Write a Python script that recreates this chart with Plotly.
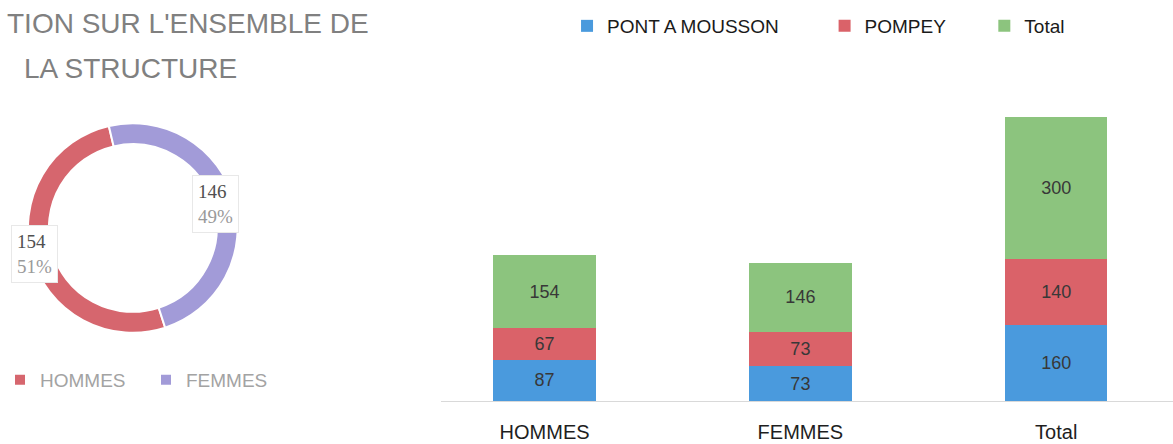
import math
import plotly.graph_objects as go

# ---- data ----
categories = ["HOMMES", "FEMMES", "Total"]
pont_a_mousson = [87, 73, 160]
pompey = [67, 73, 140]
total = [154, 146, 300]
series_names = ["PONT A MOUSSON", "POMPEY", "Total"]

donut_labels = ["HOMMES", "FEMMES"]
donut_values = [154, 146]

title_line1 = "TION SUR L'ENSEMBLE DE"
title_line2 = "LA STRUCTURE"

# ---- styles ----
W, H = 1173, 444
bar_colors = ["#4a9add", "#da6269", "#8cc47e"]
donut_colors = ["#d6666e", "#a29bd8"]
sans = "Liberation Sans"

fig = go.Figure()

series = [pont_a_mousson, pompey, total]
legends = ["legend", "legend3", "legend4"]
for name, vals, col, lg in zip(series_names, series, bar_colors, legends):
    fig.add_trace(go.Bar(
        x=categories, y=vals, name=name, marker_color=col, marker_line_width=0,
        width=0.4, text=vals, texttemplate="%{text}", textposition="inside",
        insidetextanchor="middle", textangle=0,
        textfont=dict(family=sans, size=18, color="#383838"),
        legend=lg, xaxis="x", yaxis="y",
    ))

# donut
cx, cy, R = 131, 228, 105
rotation = 162
fig.add_trace(go.Pie(
    labels=donut_labels, values=donut_values, hole=0.8, sort=False,
    direction="clockwise", rotation=rotation,
    marker=dict(colors=donut_colors, line=dict(color="white", width=2)),
    textinfo="none", hoverinfo="label+value+percent",
    domain=dict(x=[(cx - R) / W, (cx + R) / W], y=[1 - (cy + R) / H, 1 - (cy - R) / H]),
    legend="legend2", showlegend=True,
))

# donut data labels
tot = sum(donut_values)
start = rotation
annotations = []
for v in donut_values:
    span = v / tot * 360
    mid = math.radians(start + span / 2)
    start += span
    r = 94
    px = cx + r * math.sin(mid)
    py = cy - r * math.cos(mid)
    pct = round(v / tot * 100)
    annotations.append(dict(
        x=px / W, y=1 - py / H, xref="paper", yref="paper", showarrow=False,
        xanchor="center", yanchor="middle", xshift=-8, yshift=-1,
        text=f"{v}<br><span style='color:#9a9a9a'>{pct}%</span>",
        font=dict(family="Liberation Serif", size=19, color="#505050"),
        bgcolor="white", bordercolor="#e8e8e8", borderwidth=1, borderpad=5,
        align="left",
    ))

annotations.append(dict(x=3 / W, y=1 - 23 / H, xref="paper", yref="paper", xanchor="left",
                        yanchor="middle", showarrow=False, text=title_line1,
                        font=dict(family=sans, size=28, color="#808080")))
annotations.append(dict(x=20 / W, y=1 - 68 / H, xref="paper", yref="paper", xanchor="left",
                        yanchor="middle", showarrow=False, text=title_line2,
                        font=dict(family=sans, size=28, color="#808080")))

base_px = 401
ppu = 0.474
dom_top_px = 100
y_max = (base_px - dom_top_px) / ppu

x_left_px, first_center_px, step_px = 440, 543.5, 256.25

leg_common = dict(orientation="h", yanchor="middle", xanchor="left", bgcolor="rgba(0,0,0,0)",
                  font=dict(family=sans, size=19, color="#1a1a1a"))

fig.update_layout(
    width=W, height=H, autosize=False,
    margin=dict(l=0, r=0, t=0, b=0),
    paper_bgcolor="white", plot_bgcolor="white",
    barmode="stack",
    xaxis=dict(domain=[x_left_px / W, 1.0],
               range=[(x_left_px - first_center_px) / step_px, (W - first_center_px) / step_px],
               type="category", categoryorder="array", categoryarray=categories,
               showgrid=False, zeroline=False, showline=True, linecolor="#d9d9d9", linewidth=1,
               ticks="", tickfont=dict(family=sans, size=20, color="#1e1e1e"),
               ticklabelstandoff=13, fixedrange=True),
    yaxis=dict(domain=[1 - base_px / H, 1 - dom_top_px / H], range=[0, y_max], visible=False,
               fixedrange=True),
    legend=dict(x=566 / W, y=1 - 26 / H, **leg_common),
    legend3=dict(x=824 / W, y=1 - 26 / H, **leg_common),
    legend4=dict(x=984 / W, y=1 - 26 / H, **leg_common),
    legend2=dict(orientation="h", x=-2 / W, y=1 - 380 / H, yanchor="middle", xanchor="left",
                 entrywidth=101, entrywidthmode="pixels",
                 bgcolor="rgba(0,0,0,0)", font=dict(family=sans, size=19, color="#a3a3a3")),
    annotations=annotations,
    showlegend=True,
)

fig.write_html("out.html", config={"displayModeBar": False},
               post_script="document.body.style.margin='0';")
